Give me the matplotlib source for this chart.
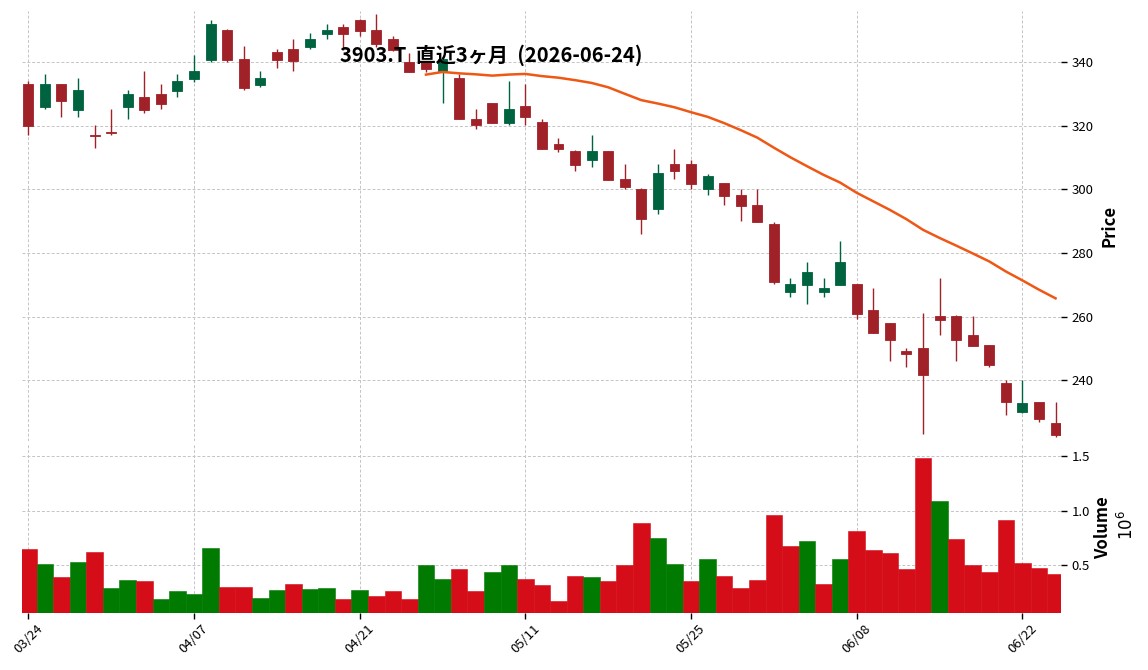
import numpy as np
import pandas as pd
import matplotlib
matplotlib.use('Agg')
import matplotlib.pyplot as plt
from matplotlib.ticker import FixedLocator, FuncFormatter

plt.rcParams['font.family'] = ['Noto Sans CJK JP', 'DejaVu Sans']

# ---------------- data ----------------
ticker = '3903.T'
asof = '2026-06-24'
title = f'{ticker}  直近3ヶ月  ({asof})'
jp_holidays = ['2026-04-29', '2026-05-04', '2026-05-05', '2026-05-06']
dates = [d for d in pd.bdate_range('2026-03-24', '2026-06-24')
         if d.strftime('%Y-%m-%d') not in jp_holidays]

opens = [333.0, 326.0, 333.0, 325.1, 317.1, 318.1, 326.0, 329.1, 330.0, 331.1,
         334.7, 340.7, 350.2, 341.0, 332.9, 343.2, 344.2, 344.9, 349.0, 351.1,
         353.3, 350.2, 347.3, 340.1, 340.1, 337.3, 335.0, 322.2, 327.2, 321.0,
         326.3, 321.2, 314.3, 312.1, 309.1, 312.1, 303.3, 300.2, 294.0, 308.0,
         308.0, 300.0, 302.0, 298.3, 295.1, 289.1, 267.9, 270.1, 267.9, 270.1,
         270.2, 262.1, 258.0, 249.2, 250.1, 260.3, 260.3, 254.2, 251.0, 239.1,
         229.9, 233.1, 226.5]
highs = [334.1, 336.2, 333.2, 335.0, 320.2, 325.2, 331.3, 337.3, 333.1, 336.2,
         342.3, 353.2, 350.4, 345.0, 337.2, 344.1, 347.2, 349.1, 351.9, 351.9,
         353.6, 355.1, 348.3, 342.8, 340.5, 341.0, 336.3, 325.2, 327.3, 334.0,
         333.1, 322.2, 316.2, 312.3, 317.0, 312.2, 307.9, 300.3, 307.9, 312.8,
         309.1, 305.0, 302.1, 300.2, 300.2, 289.9, 272.1, 277.1, 272.1, 283.7,
         270.3, 268.9, 258.1, 250.1, 261.0, 272.1, 260.4, 260.1, 251.1, 240.0,
         240.0, 233.2, 233.1]
lows = [317.1, 325.2, 322.9, 322.9, 313.0, 317.0, 322.1, 324.0, 325.2, 329.0,
        333.9, 340.0, 340.0, 331.2, 332.1, 338.1, 337.2, 344.1, 347.2, 343.9,
        348.1, 344.9, 343.5, 336.8, 337.0, 327.1, 322.0, 318.9, 320.8, 320.2,
        320.2, 312.6, 311.8, 305.9, 307.0, 303.0, 300.2, 285.9, 292.2, 303.3,
        300.2, 298.3, 295.0, 290.1, 289.7, 270.2, 266.1, 263.9, 266.1, 270.0,
        259.2, 254.9, 245.9, 244.1, 223.0, 254.2, 245.9, 250.7, 244.2, 229.0,
        229.8, 226.9, 222.1]
closes = [320.0, 333.0, 327.8, 331.3, 316.9, 317.9, 330.0, 325.1, 327.0, 334.1,
          337.3, 352.0, 340.7, 331.9, 335.1, 340.7, 340.5, 347.3, 350.2, 349.0,
          349.9, 345.8, 343.9, 337.0, 338.0, 341.0, 322.1, 320.1, 321.0, 325.3,
          322.9, 312.8, 312.6, 307.8, 312.1, 303.1, 300.9, 290.7, 305.2, 305.9,
          301.8, 304.2, 298.0, 294.9, 289.9, 271.0, 270.2, 274.0, 268.9, 277.2,
          260.8, 255.0, 252.8, 248.1, 241.7, 259.0, 252.8, 250.9, 244.8, 233.2,
          233.0, 227.9, 222.8]
volumes = [648000, 512000, 394000, 530000, 621000, 294000, 367000, 358000, 194000, 267000,
           239000, 658000, 303000, 303000, 203000, 276000, 330000, 285000, 294000, 194000,
           276000, 221000, 267000, 194000, 503000, 376000, 467000, 267000, 439000, 503000,
           376000, 321000, 176000, 403000, 394000, 358000, 503000, 885000, 748000, 512000,
           358000, 558000, 403000, 294000, 367000, 958000, 676000, 721000, 330000, 558000,
           812000, 639000, 612000, 467000, 1476000, 1085000, 739000, 503000, 439000, 912000,
           521000, 476000, 421000]
mav_period = 25
tick_every = 10

# ---------------- styling ----------------
UP, DOWN = '#006340', '#a02128'
VUP, VDOWN = '#007a00', '#d50d18'
MAV_COLOR = '#ef5714'
GRID = dict(color='#c4c4c4', linestyle=(0, (3, 2)), linewidth=0.7)

df = pd.DataFrame({'Open': opens, 'High': highs, 'Low': lows,
                   'Close': closes, 'Volume': volumes}, index=pd.DatetimeIndex(dates))
x = np.arange(len(df))
o, h, l, c = df.Open.values, df.High.values, df.Low.values, df.Close.values
up = c >= o
ccol = np.where(up, UP, DOWN)
prev_c = np.r_[o[0], c[:-1]]
vcol = np.where(c >= prev_c, VUP, VDOWN)
mav = df.Close.rolling(mav_period).mean()

W, H = 1148, 670
fig = plt.figure(figsize=(W / 100, H / 100), dpi=100)
L, R = 22, 1060.7
ax = fig.add_axes([L / W, 1 - 441 / H, (R - L) / W, 430 / H])
axv = fig.add_axes([L / W, 1 - 612.7 / H, (R - L) / W, 169.7 / H], sharex=ax)

# candles
ax.vlines(x, l, h, colors=ccol, linewidth=1.0, zorder=2)
ax.bar(x, np.where(np.abs(c - o) < 0.3, 0.3 * np.sign(c - o + 1e-9), c - o), bottom=o,
       width=0.6, color=ccol, edgecolor=ccol, linewidth=0.6, zorder=3)
ax.plot(x, mav.values, color=MAV_COLOR, linewidth=1.8, zorder=4)

# volume
axv.bar(x, df.Volume.values, width=1.0, color=vcol, edgecolor=vcol,
        linewidth=0.4, zorder=2)

ax.set_xlim(-0.38, len(df) - 1 + 0.31)
ax.set_ylim(220.9, 356.1)
axv.set_ylim(0.068e6, 1.616e6)

xt = x[::tick_every]
for a in (ax, axv):
    for s in a.spines.values():
        s.set_visible(False)
    a.xaxis.set_major_locator(FixedLocator(xt))
    a.grid(True, **GRID)
    a.set_axisbelow(True)
    a.yaxis.tick_right()
    a.yaxis.set_label_position('right')
    a.tick_params(axis='y', which='both', length=4, width=1, direction='out',
                  labelsize=9.5, pad=4)

ax.yaxis.set_major_locator(FixedLocator([240, 260, 280, 300, 320, 340]))
ax.tick_params(axis='x', length=0, labelbottom=False)
axv.yaxis.set_major_locator(FixedLocator([0.5e6, 1.0e6, 1.5e6]))
axv.yaxis.set_major_formatter(FuncFormatter(lambda v, p: f'{v / 1e6:.1f}'))
axv.xaxis.set_major_formatter(FuncFormatter(
    lambda v, p: df.index[int(round(v))].strftime('%m/%d') if 0 <= int(round(v)) < len(df) else ''))
axv.tick_params(axis='x', length=4, width=1, direction='out', labelsize=9.5, pad=3,
                labelrotation=45)

ax.set_ylabel('Price', fontsize=12, fontweight='bold', labelpad=5)
axv.set_ylabel('Volume', fontsize=12, fontweight='bold', labelpad=3)
fig.text(1127 / W, 1 - 525 / H, r'$10^{6}$', rotation=90, ha='center', va='center',
         fontsize=12)

fig.text(491 / W, 1 - 55 / H, title, ha='center', va='center',
         fontsize=14.5, fontweight='bold')

fig.savefig('out.png', dpi=100)
